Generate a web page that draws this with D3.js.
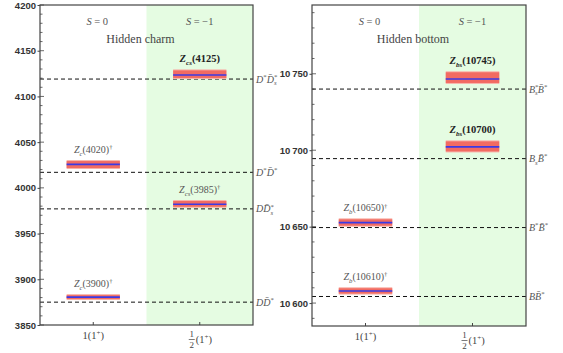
<!DOCTYPE html>
<html><head><meta charset="utf-8">
<script src="https://cdn.jsdelivr.net/npm/d3@7/dist/d3.min.js"></script>
<style>body{margin:0;background:#fff}svg{display:block}</style>
</head><body><svg id="c" width="563" height="353"></svg>
<script>
// ---- data ----
const categories = ["1(1^+)", "1/2(1^+)"];
const sectorLabels = ["S = 0", "S = −1"];

const charmTitle = "Hidden charm";
const charmDomain = [3850, 4200];
const charmTicks = [3850, 3900, 3950, 4000, 4050, 4100, 4150, 4200];
const charmThresholdValues = [4119, 4017, 3977, 3875];
const charmThresholdLabels = ["D^*D̄^*_s", "D^*D̄^*", "DD̄^*_s", "DD̄^*"];
const charmStateNames = ["Z_c(4020)^†", "Z_c(3900)^†", "Z_{cs}(4125)", "Z_{cs}(3985)^†"];
const charmStateBold = [false, false, true, false];
const charmStateCategory = [0, 0, 1, 1];
const charmStateCentral = [4025.7, 3880.5, 4123.5, 3982];
const charmStateLow = [4021.7, 3878.4, 4120.2, 3979.3];
const charmStateHigh = [4029.3, 3882.7, 4128.5, 3985.6];

const bottomTitle = "Hidden bottom";
const bottomDomain = [10585, 10795];
const bottomTicks = [10600, 10650, 10700, 10750];
const bottomThresholdValues = [10740, 10694.5, 10649.4, 10604.3];
const bottomThresholdLabels = ["B^*_sB̄^*", "B_sB̄^*", "B^*B̄^*", "BB̄^*"];
const bottomStateNames = ["Z_b(10650)^†", "Z_b(10610)^†", "Z_{bs}(10745)", "Z_{bs}(10700)"];
const bottomStateBold = [false, false, true, true];
const bottomStateCategory = [0, 0, 1, 1];
const bottomStateCentral = [10652.6, 10607.9, 10746.6, 10702.2];
const bottomStateLow = [10650.6, 10606.2, 10744.0, 10699.2];
const bottomStateHigh = [10654.8, 10609.7, 10751.0, 10705.8];

// ---- drawing ----
const svg = d3.select("#c");
const serif = "'Liberation Serif','DejaVu Serif',serif";
const sans = "'Liberation Sans',Arial,sans-serif";

function fmtBottom(v){ const s = String(v); return s.slice(0, s.length-3) + "\u2009" + s.slice(-3); }

// tiny math-markup renderer: ^x / _x / _{xy} ; letters italic
function mathText(t, str, size, italicLetters = true){
  const small = size * 0.68;
  let cur = 0, i = 0, lastSup = false;
  const isL = c => /[A-Za-z]/.test(c);
  const add = (txt, off, fs, dx) => {
    if (!txt) return;
    const sp = t.append("tspan").text(txt).attr("font-size", fs);
    if (off !== cur) sp.attr("dy", off - cur);
    if (dx) sp.attr("dx", dx);
    if (italicLetters && isL(txt[0])) sp.attr("font-style", "italic");
    cur = off;
  };
  const grab = k => {
    if (str[k] === "{") { const e = str.indexOf("}", k); return [str.slice(k + 1, e), e + 1]; }
    return [str[k], k + 1];
  };
  while (i < str.length) {
    const c = str[i];
    if (c === "^") { const [s, n] = grab(i + 1); add(s, -size*0.38, small); i = n; lastSup = true; continue; }
    if (c === "_") { const [s, n] = grab(i + 1); add(s, size*0.28, small, lastSup ? -small*0.5 : 0); i = n; lastSup = false; continue; }
    let j = i, s = "";
    while (j < str.length && str[j] !== "^" && str[j] !== "_" && (s === "" || isL(str[j]) === isL(s[0]) || str[j] === "\u0304")) { s += str[j]; j++; }
    add(s, 0, size); i = j; lastSup = false;
  }
}

function panel(opt){
  const {x0, x1, y0, y1, domain, ticks, fmt, title, thrV, thrL, names, bold, cat, cen, lo, hi} = opt;
  const g = svg.append("g");
  const y = d3.scaleLinear().domain(domain).range([y1, y0]);
  const x = d3.scaleBand().domain(d3.range(categories.length)).range([x0, x1]).padding(0);
  const bw = x.bandwidth();
  g.append("rect").attr("x", x(1)).attr("y", y0).attr("width", bw).attr("height", y1 - y0).attr("fill", "#e5fce2");
  const minor = d3.range(Math.ceil(domain[0]/10)*10, domain[1]+0.1, 10);
  g.selectAll(".mt").data(minor).join("line")
    .attr("x1", x0).attr("x2", d => x0 + (d % 50 === 0 ? 4 : 2.5))
    .attr("y1", d => y(d)).attr("y2", d => y(d)).attr("stroke", "#444").attr("stroke-width", 0.8);
  const ax = d3.axisLeft(y).tickValues(ticks).tickSize(2.5).tickFormat(fmt);
  const ag = g.append("g").attr("transform", `translate(${x0},0)`).call(ax);
  ag.select(".domain").remove();
  ag.selectAll("line").attr("stroke", "#444");
  ag.selectAll("text").attr("font-family", sans).attr("font-size", 9.5).attr("font-weight", "bold").attr("fill", "#333").attr("dx", "1.5");
  g.selectAll(".ct").data(d3.range(categories.length)).join("line")
    .attr("x1", d => x(d) + bw/2).attr("x2", d => x(d) + bw/2).attr("y1", y1).attr("y2", y1 - 3).attr("stroke", "#444");
  // category labels
  const c0 = g.append("text").attr("x", x(0) + bw/2).attr("y", y1 + 14).attr("text-anchor", "middle")
    .attr("font-family", serif).attr("font-size", 10.5).attr("fill", "#444");
  mathText(c0, categories[0], 10.5, false);
  const cx1 = x(1) + bw/2;
  const frac = categories[1].split("(")[0].split("/");
  g.append("text").attr("x", cx1 - 8).attr("y", y1 + 12).attr("text-anchor", "middle").attr("font-family", serif).attr("font-size", 9).attr("fill", "#444").text(frac[0]);
  g.append("line").attr("x1", cx1 - 11).attr("x2", cx1 - 5).attr("y1", y1 + 14.5).attr("y2", y1 + 14.5).attr("stroke", "#444").attr("stroke-width", 0.7);
  g.append("text").attr("x", cx1 - 8).attr("y", y1 + 22.5).attr("text-anchor", "middle").attr("font-family", serif).attr("font-size", 9).attr("fill", "#444").text(frac[1]);
  const c1 = g.append("text").attr("x", cx1 - 4).attr("y", y1 + 18).attr("font-family", serif).attr("font-size", 10.5).attr("fill", "#444");
  mathText(c1, "(" + categories[1].split("(")[1], 10.5, false);
  // sector labels
  sectorLabels.forEach((s, i) => {
    const t = g.append("text").attr("x", x(i) + bw/2 + (i===0 ? 4 : 0)).attr("y", y0 + 20).attr("text-anchor", "middle")
      .attr("font-family", serif).attr("font-size", 10.5).attr("fill", "#555");
    t.append("tspan").attr("font-style", "italic").text(s[0]);
    t.append("tspan").text(s.slice(1));
  });
  g.append("text").attr("x", (x0 + x1)/2 - 6).attr("y", y0 + 38).attr("text-anchor", "middle")
    .attr("font-family", serif).attr("font-size", 12).attr("fill", "#444").text(title);
  // thresholds
  thrV.forEach((v, i) => {
    g.append("line").attr("x1", x0).attr("x2", x1).attr("y1", y(v)).attr("y2", y(v))
      .attr("stroke", "#111").attr("stroke-width", 1).attr("stroke-dasharray", "4,3");
    const t = g.append("text").attr("x", x1 + 3).attr("y", y(v) + 3.5).attr("font-family", serif).attr("font-size", 10).attr("fill", "#555");
    mathText(t, thrL[i], 10);
  });
  // states
  const bx0 = i => x(cat[i]) + bw*0.25, bx1 = i => x(cat[i]) + bw*0.75;
  names.forEach((n, i) => {
    g.append("rect").attr("x", bx0(i)).attr("width", bx1(i) - bx0(i))
      .attr("y", y(hi[i]) - 1).attr("height", y(lo[i]) - y(hi[i]) + 2).attr("fill", "#f8b3aa");
    g.append("rect").attr("x", bx0(i)).attr("width", bx1(i) - bx0(i))
      .attr("y", y(hi[i])).attr("height", y(lo[i]) - y(hi[i])).attr("fill", "#f26b62");
    g.append("line").attr("x1", bx0(i)).attr("x2", bx1(i)).attr("y1", y(cen[i])).attr("y2", y(cen[i]))
      .attr("stroke", "#3a3ae6").attr("stroke-width", 1.6);
    const t = g.append("text").attr("x", (bx0(i) + bx1(i))/2).attr("y", y(hi[i]) - 8).attr("text-anchor", "middle")
      .attr("font-family", serif).attr("fill", bold[i] ? "#222" : "#555")
      .attr("font-weight", bold[i] ? "bold" : "normal");
    mathText(t, n, bold[i] ? 10.5 : 10);
  });
  g.append("rect").attr("x", x0).attr("y", y0).attr("width", x1 - x0).attr("height", y1 - y0)
    .attr("fill", "none").attr("stroke", "#444").attr("stroke-width", 1.2);
}

panel({x0: 40, x1: 253, y0: 5, y1: 325, domain: charmDomain, ticks: charmTicks, fmt: d3.format("d"), title: charmTitle,
  thrV: charmThresholdValues, thrL: charmThresholdLabels, names: charmStateNames, bold: charmStateBold, cat: charmStateCategory,
  cen: charmStateCentral, lo: charmStateLow, hi: charmStateHigh});
panel({x0: 312, x1: 526, y0: 5, y1: 326, domain: bottomDomain, ticks: bottomTicks, fmt: fmtBottom, title: bottomTitle,
  thrV: bottomThresholdValues, thrL: bottomThresholdLabels, names: bottomStateNames, bold: bottomStateBold, cat: bottomStateCategory,
  cen: bottomStateCentral, lo: bottomStateLow, hi: bottomStateHigh});
</script></body></html>
